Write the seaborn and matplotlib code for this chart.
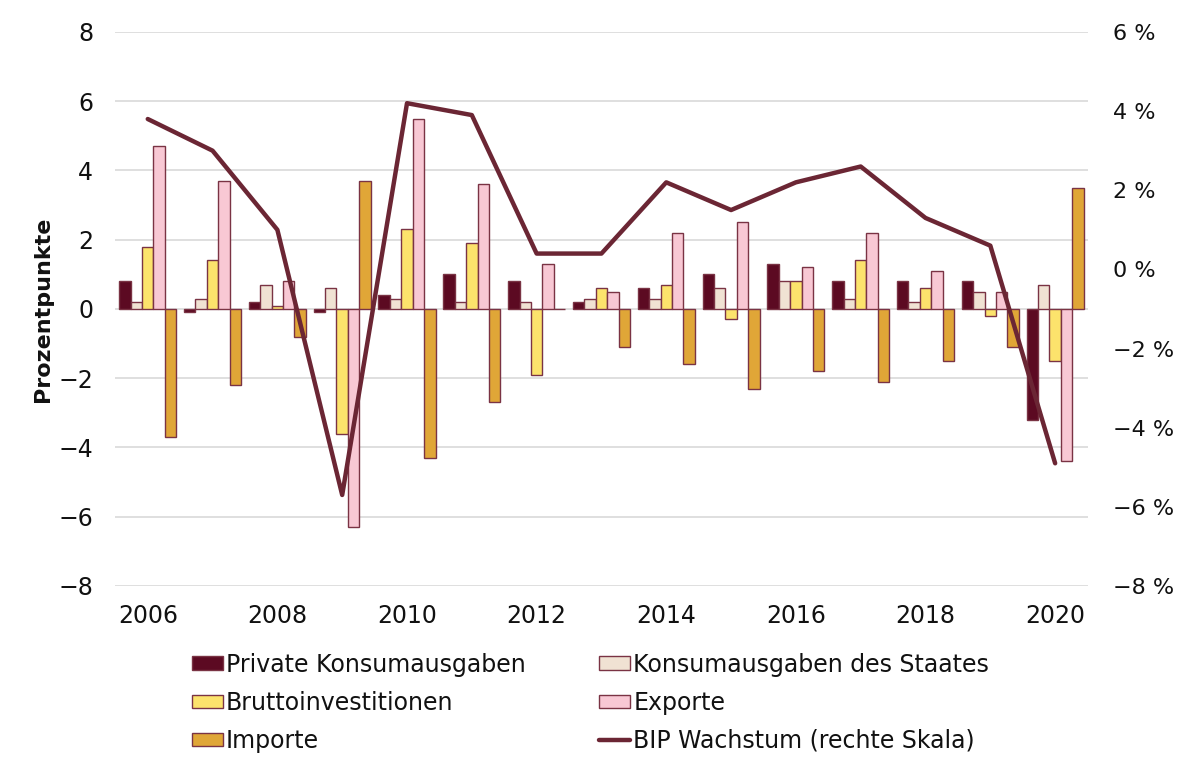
import numpy as np
import pandas as pd
import matplotlib
matplotlib.use("Agg")
import matplotlib.pyplot as plt
import seaborn as sns
from matplotlib.patches import Patch
from matplotlib.lines import Line2D

years = list(range(2006, 2021))
components = ["Private Konsumausgaben", "Konsumausgaben des Staates",
              "Bruttoinvestitionen", "Exporte", "Importe"]
private = [0.8, -0.1, 0.2, -0.1, 0.4, 1.0, 0.8, 0.2, 0.6, 1.0, 1.3, 0.8, 0.8, 0.8, -3.2]
staat = [0.2, 0.3, 0.7, 0.6, 0.3, 0.2, 0.2, 0.3, 0.3, 0.6, 0.8, 0.3, 0.2, 0.5, 0.7]
brutto = [1.8, 1.4, 0.1, -3.6, 2.3, 1.9, -1.9, 0.6, 0.7, -0.3, 0.8, 1.4, 0.6, -0.2, -1.5]
exporte = [4.7, 3.7, 0.8, -6.3, 5.5, 3.6, 1.3, 0.5, 2.2, 2.5, 1.2, 2.2, 1.1, 0.5, -4.4]
importe = [-3.7, -2.2, -0.8, 3.7, -4.3, -2.7, 0.0, -1.1, -1.6, -2.3, -1.8, -2.1, -1.5, -1.1, 3.5]
bip = [3.8, 3.0, 1.0, -5.7, 4.2, 3.9, 0.4, 0.4, 2.2, 1.5, 2.2, 2.6, 1.3, 0.6, -4.9]
line_label = "BIP Wachstum (rechte Skala)"
left_ticks = [-8, -6, -4, -2, 0, 2, 4, 6, 8]
right_ticks = [-8, -6, -4, -2, 0, 2, 4, 6]

colors = ["#5c0a22", "#f0e2d3", "#fce36c", "#f8c8d4", "#e0a637"]
edge = "#7a3344"
line_color = "#6b2634"

series = [private, staat, brutto, exporte, importe]
df = pd.DataFrame({
    "year": [str(y) for y in years] * 5,
    "component": np.repeat(components, len(years)),
    "value": np.concatenate(series),
})

sns.set_theme(style="white")
plt.rcParams["font.family"] = ["DejaVu Sans"]
plt.rcParams["axes.unicode_minus"] = True

fig = plt.figure(figsize=(11.77, 7.61), dpi=100)
ax = fig.add_axes([0.098, 0.23, 0.826, 0.728])

sns.barplot(data=df, x="year", y="value", hue="component", hue_order=components,
            palette=colors, saturation=1, edgecolor=edge, linewidth=1.0, width=0.88,
            legend=False, ax=ax, zorder=2)

ax.set_ylim(-8, 8)
ax.set_xlim(-0.5, len(years) - 0.5)
ax.set_yticks(left_ticks)
ax.set_yticklabels([f"{t}".replace("-", "\u2212") for t in left_ticks])
ax.set_xticks(range(0, len(years), 2))
ax.set_xticklabels([str(y) for y in years[::2]])
ax.grid(axis="y", color="#d9d9d9", linewidth=1.2, zorder=0)
ax.set_axisbelow(True)
ax.tick_params(axis="y", length=0, labelsize=17, colors="#111111", pad=16)
ax.tick_params(axis="x", length=0, labelsize=17, colors="#111111", pad=13)
ax.set_xlabel("")
ax.set_ylabel("Prozentpunkte", fontsize=16, fontweight="bold", color="#111111")
ax.yaxis.set_label_coords(-0.064, 0.5)
for s in ax.spines.values():
    s.set_visible(False)

ax2 = ax.twinx()
sns.lineplot(x=np.arange(len(years)), y=bip, ax=ax2, color=line_color,
             linewidth=3.2, zorder=5)
ax2.set_ylim(-8, 6)
ax2.set_yticks(right_ticks)
ax2.set_yticklabels([f"{t} %".replace("-", "\u2212") for t in right_ticks])
ax2.tick_params(axis="y", length=0, labelsize=16, colors="#111111", pad=18)
ax2.grid(False)
for s in ax2.spines.values():
    s.set_visible(False)
ax2.set_xlim(-0.5, len(years) - 0.5)

handles = [Patch(facecolor=colors[i], edgecolor=edge, linewidth=1.0) for i in range(5)]
line_handle = Line2D([0], [0], color=line_color, linewidth=3.2)
order_h = [handles[0], handles[2], handles[4], handles[1], handles[3], line_handle]
order_l = [components[0], components[2], components[4], components[1], components[3], line_label]
fig.legend(order_h, order_l, loc="upper left", bbox_to_anchor=(0.153, 0.158),
           ncol=2, frameon=False, fontsize=17, handlelength=1.3, handleheight=0.5,
           handletextpad=0.15, columnspacing=3.1, labelspacing=0.6, borderpad=0,
           labelcolor="#111111")

fig.savefig("out.png", dpi=100)
